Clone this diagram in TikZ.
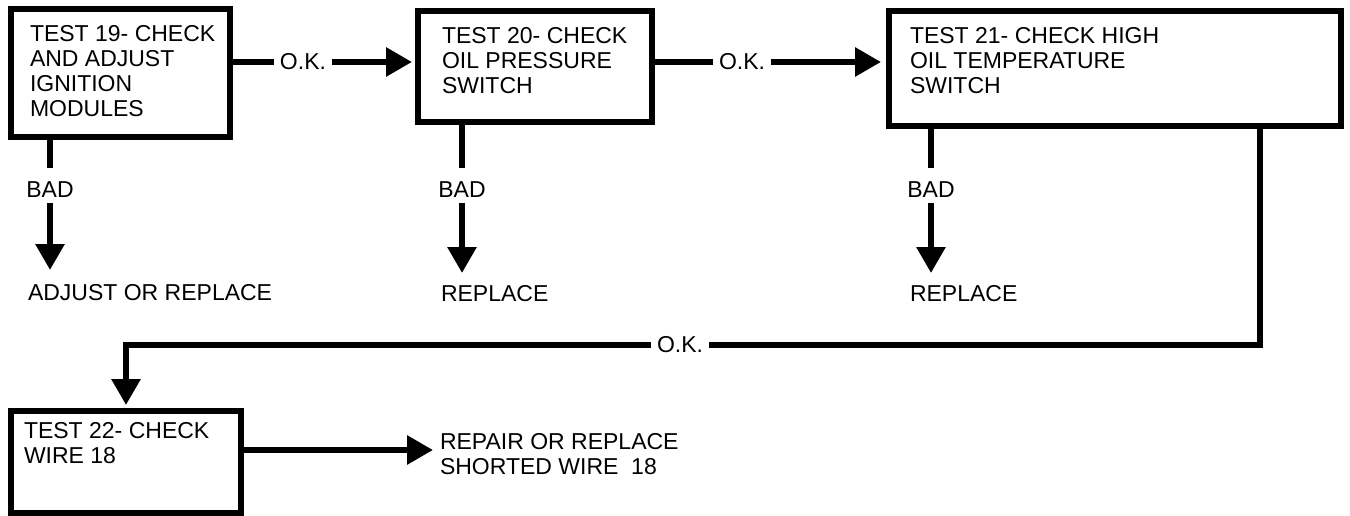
\documentclass[tikz,border=0pt]{standalone}
\usepackage{fontspec}
\setmainfont{Liberation Sans}
\usetikzlibrary{arrows.meta}
\begin{document}
\begin{tikzpicture}[x=1pt,y=-1pt,
  box/.style={draw, line width=6pt, inner sep=0pt, outer sep=0pt},
  txt/.style={inner sep=0pt, outer sep=0pt, align=left, font=\fontsize{23}{25}\selectfont, anchor=north west},
  oklab/.style={inner xsep=6pt, inner ysep=0pt, outer sep=0pt, font=\fontsize{23}{25}\selectfont},
  conn/.style={line width=6pt},
  arr/.style={conn, -{Triangle[length=26pt,width=28pt]}},
]
\fill[white] (0,0) rectangle (1350,516);
\useasboundingbox (0,0) rectangle (1350,516);

% boxes
\node[box, minimum width=219pt, minimum height=128pt] (b19) at (120.5,73) {};
\node[txt] (t19) at (30,25) {TEST 19- CHECK\\AND ADJUST\\IGNITION\\MODULES};
\node[box, minimum width=234pt, minimum height=111pt] (b20) at (535,66.5) {};
\node[txt] (t20) at (442,27) {TEST 20- CHECK\\OIL PRESSURE\\SWITCH};
\node[box, minimum width=452pt, minimum height=115pt] (b21) at (1115,68.5) {};
\node[txt] (t21) at (910,27) {TEST 21- CHECK HIGH\\OIL TEMPERATURE\\SWITCH};
\node[box, minimum width=230pt, minimum height=102pt] (b22) at (126,462) {};
\node[txt] (t22) at (24,422) {TEST 22- CHECK\\WIRE 18};

% O.K. connectors along the top
\node[oklab] (ok1) at (303,62) {O.K.};
\node[oklab] (ok2) at (742,62) {O.K.};
\draw[conn] (b19.east |- ok1) -- (ok1);
\draw[arr, shorten >=6pt] (ok1) -- (b20.west |- ok1);
\draw[conn] (b20.east |- ok2) -- (ok2);
\draw[arr, shorten >=8pt] (ok2) -- (b21.west |- ok2);

% BAD branches
\node[txt, anchor=north] (bad19) at (50,182) {BAD};
\node[txt] (adj19) at (28,284) {ADJUST OR REPLACE};
\draw[conn, shorten >=14pt] (b19.south -| bad19) -- (bad19.north);
\draw[arr, shorten <=5pt, shorten >=14pt] (bad19.south) -- (bad19.south |- adj19.north);

\node[txt, anchor=north] (bad20) at (462,182) {BAD};
\node[txt] (rep20) at (441,285) {REPLACE};
\draw[conn, shorten >=14pt] (b20.south -| bad20) -- (bad20.north);
\draw[arr, shorten <=5pt, shorten >=12pt] (bad20.south) -- (bad20.south |- rep20.north);

\node[txt, anchor=north] (bad21) at (931,182) {BAD};
\node[txt] (rep21) at (910,285) {REPLACE};
\draw[conn, shorten >=14pt] (b21.south -| bad21) -- (bad21.north);
\draw[arr, shorten <=5pt, shorten >=12pt] (bad21.south) -- (bad21.south |- rep21.north);

% return O.K. path to test 22
\coordinate (r1) at (1260,345);
\coordinate (r2) at (126,345);
\node[oklab] (ok3) at (680,345) {O.K.};
\draw[conn] (b21.south -| r1) -- (r1) -- (ok3);
\draw[arr, shorten >=6pt] (ok3) -- (r2) -- (b22.north -| r2);

% test 22 result
\node[txt] (rep22) at (440,433) {REPAIR OR REPLACE\\SHORTED WIRE\ \ 18};
\coordinate (a22) at (433,450);
\draw[arr] (b22.east |- a22) -- (a22);
\end{tikzpicture}
\end{document}
